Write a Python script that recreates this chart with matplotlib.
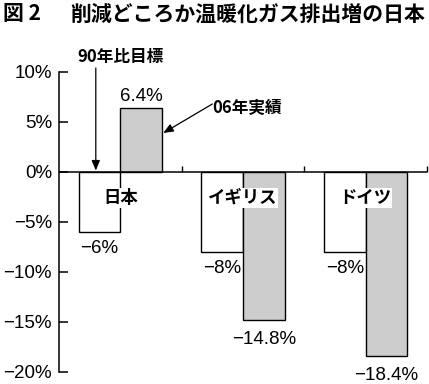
import matplotlib.pyplot as plt
import numpy as np

countries = ['日本', 'イギリス', 'ドイツ']
target_90 = [-6, -8, -8]
actual_06 = [6.4, -14.8, -18.4]
target_labels = ['−6%', '−8%', '−8%']
actual_labels = ['6.4%', '−14.8%', '−18.4%']
yticks = [10, 5, 0, -5, -10, -15, -20]
ytick_labels = ['10%', '5%', '0%', '−5%', '−10%', '−15%', '−20%']

plt.rcParams['font.family'] = ['Liberation Sans', 'DejaVu Sans']
jp = 'Noto Sans CJK JP'

fig = plt.figure(figsize=(4.29, 3.84), dpi=100)
ax = fig.add_axes([59 / 429, 12 / 384, 368 / 429, 300 / 384])

x = np.arange(len(countries))
w = 0.34
ax.bar(x - w / 2, target_90, w, color='white', edgecolor='black', linewidth=1, zorder=2)
ax.bar(x + w / 2, actual_06, w, color='#cdcdcd', edgecolor='black', linewidth=1, zorder=2)
ax.axhline(0, color='black', lw=1.1, zorder=3)
# category separators on the zero line
ax.vlines(x + 0.5, 0, 0.6, color='black', lw=1, zorder=3, clip_on=False)

ax.set_xlim(-0.5, 2.5)
ax.set_ylim(-20, 10)
ax.set_xticks([])
ax.set_yticks(yticks)
ax.set_yticklabels(ytick_labels, fontsize=13.5)
ax.tick_params(axis='y', direction='in', length=6.5, width=1.1, pad=5)
for s in ['top', 'right', 'bottom']:
    ax.spines[s].set_visible(False)
ax.spines['left'].set_linewidth(1.1)

# value labels
for xi, v, lbl in zip(x, target_90, target_labels):
    ax.annotate(lbl, (xi - w / 2, v), xytext=(0, -6), textcoords='offset points',
                ha='center', va='top', fontsize=13.5)
for xi, v, lbl in zip(x, actual_06, actual_labels):
    if v > 0:
        ax.annotate(lbl, (xi + w / 2, v), xytext=(0, 2), textcoords='offset points',
                    ha='center', va='bottom', fontsize=13.5)
    else:
        ax.annotate(lbl, (xi + w / 2, v), xytext=(0, -8), textcoords='offset points',
                    ha='center', va='top', fontsize=13.5)

# country names
for xi, name in zip(x, countries):
    ax.text(xi, -2.6, name, ha='center', va='center', fontsize=12.5, weight='bold',
            family=jp, zorder=4,
            bbox=dict(facecolor='white', edgecolor='none', pad=0.5))

# callouts
ax.annotate('', xy=(-w / 2 - 0.03, 0.15), xytext=(-w / 2 - 0.03, 10.4),
            arrowprops=dict(arrowstyle='-|>,head_length=0.6,head_width=0.25',
                            color='black', lw=0.9, shrinkA=0, shrinkB=0),
            annotation_clip=False, zorder=5)
ax.text(0.0, 11.5, '90年比目標', ha='center', va='center', fontsize=12,
        weight='bold', family=jp, clip_on=False)
ax.annotate('', xy=(w + 0.01, 3.9), xytext=(0.75, 6.8),
            arrowprops=dict(arrowstyle='-|>,head_length=0.6,head_width=0.25',
                            color='black', lw=0.9, shrinkA=0, shrinkB=0),
            annotation_clip=False, zorder=5)
ax.text(0.75, 6.4, '06年実績', ha='left', va='center', fontsize=12,
        weight='bold', family=jp)

fig.text(3 / 429, 1 - 14 / 384, '図 2', fontsize=15, weight='bold', family=jp, va='center')
fig.text(70 / 429, 1 - 14 / 384, '削減どころか温暖化ガス排出増の日本', fontsize=15,
         weight='bold', family=jp, va='center')

fig.savefig('out.png', dpi=100)
